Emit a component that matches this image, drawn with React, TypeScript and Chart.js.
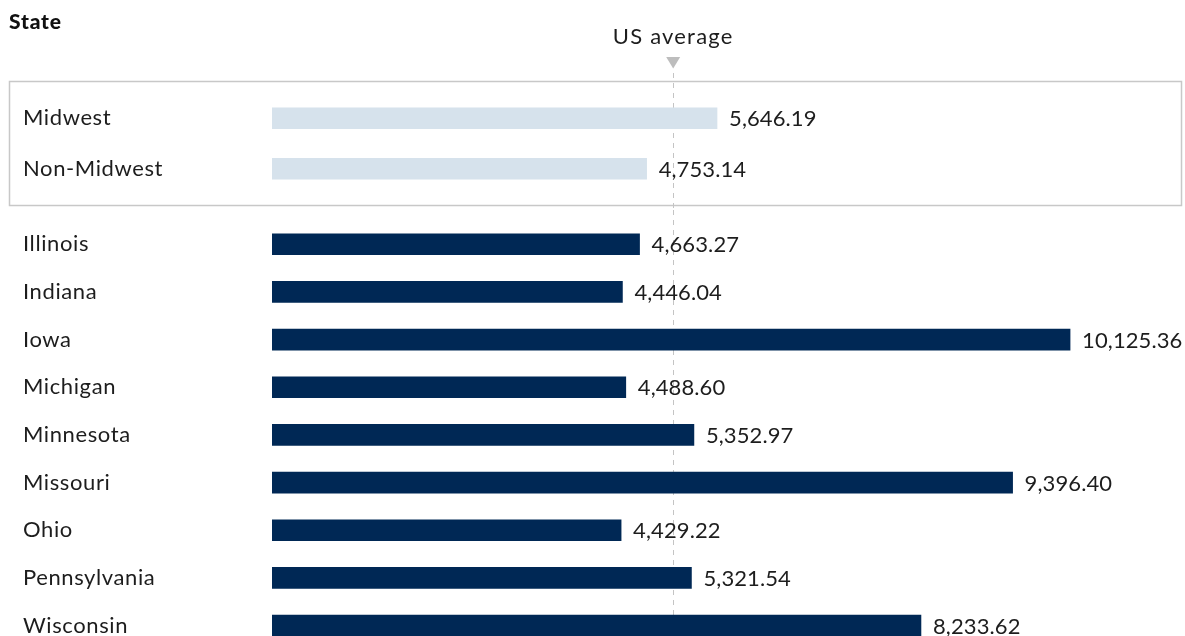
import React, { useEffect, useRef } from "react";
import { Chart, registerables } from "chart.js";

Chart.register(...registerables);

const groupLabels = ["Midwest", "Non-Midwest"];
const groupValues = [5646.19, 4753.14];
const stateLabels = ["Illinois", "Indiana", "Iowa", "Michigan", "Minnesota", "Missouri", "Ohio", "Pennsylvania", "Wisconsin"];
const stateValues = [4663.27, 4446.04, 10125.36, 4488.6, 5352.97, 9396.4, 4429.22, 5321.54, 8233.62];
const usAverage = 5090;
const titleText = "State";
const avgText = "US average";

const FONT = "Lato, 'Open Sans', sans-serif";
const TEXT_COLOR = "#1d1d1d";
const X_MAX = 11000;
const W = 1185;
const SPACING = "0.6px";

const fmt = (v: number) => v.toLocaleString("en-US", { minimumFractionDigits: 2, maximumFractionDigits: 2 });

const spacing = {
  id: "spacing",
  beforeDraw(chart: any) {
    (chart.ctx as any).letterSpacing = SPACING;
  },
};

const valueLabels = {
  id: "valueLabels",
  afterDatasetsDraw(chart: any) {
    const ctx = chart.ctx;
    const meta = chart.getDatasetMeta(0);
    const data = chart.data.datasets[0].data as number[];
    ctx.save();
    (ctx as any).letterSpacing = "0.1px";
    ctx.font = `22px ${FONT}`;
    ctx.fillStyle = TEXT_COLOR;
    ctx.textBaseline = "middle";
    ctx.textAlign = "left";
    meta.data.forEach((bar: any, i: number) => {
      ctx.fillText(fmt(data[i]), bar.x + 12, bar.y + 1);
    });
    ctx.restore();
  },
};

const avgLine = {
  id: "avgLine",
  beforeDatasetsDraw(chart: any, _args: any, opts: any) {
    const ctx = chart.ctx;
    const x = Math.round(chart.scales.x.getPixelForValue(usAverage)) + 0.5;
    ctx.save();
    ctx.strokeStyle = "#c4c4c4";
    ctx.lineWidth = 1;
    ctx.setLineDash([5, 5]);
    ctx.beginPath();
    ctx.moveTo(x, opts.top || 0);
    ctx.lineTo(x, chart.height);
    ctx.stroke();
    ctx.restore();
  },
};

const header = {
  id: "header",
  beforeDatasetsDraw(chart: any) {
    const ctx = chart.ctx;
    const x = chart.scales.x.getPixelForValue(usAverage);
    ctx.save();
    ctx.strokeStyle = "#c8c8c8";
    ctx.lineWidth = 1.5;
    ctx.strokeRect(9.5, 81.5, 1172, 124);
    ctx.fillStyle = "#111";
    (ctx as any).letterSpacing = "0.8px";
    ctx.font = `900 21px ${FONT}`;
    ctx.textAlign = "left";
    ctx.textBaseline = "alphabetic";
    ctx.fillText(titleText, 9, 29);
    (ctx as any).letterSpacing = "1.2px";
    ctx.fillStyle = TEXT_COLOR;
    ctx.font = `22px ${FONT}`;
    ctx.textAlign = "center";
    ctx.fillText(avgText, x, 44);
    ctx.fillStyle = "#bdbdbd";
    ctx.beginPath();
    ctx.moveTo(x - 7, 57);
    ctx.lineTo(x + 7, 57);
    ctx.lineTo(x, 68.5);
    ctx.closePath();
    ctx.fill();
    ctx.restore();
  },
};

function makeOptions(padTop: number, padBottom: number, lineTop: number) {
  return {
    indexAxis: "y" as const,
    animation: false as const,
    responsive: false,
    maintainAspectRatio: false,
    events: [],
    layout: { padding: { left: 23, right: W - 272 - 867, top: padTop, bottom: padBottom } },
    plugins: {
      legend: { display: false },
      tooltip: { enabled: false },
      title: { display: false },
      avgLine: { top: lineTop },
    },
    scales: {
      x: { display: false, min: 0, max: X_MAX },
      y: {
        grid: { display: false, drawTicks: false },
        border: { display: false },
        ticks: {
          crossAlign: "far" as const,
          color: TEXT_COLOR,
          font: { family: FONT, size: 22 },
          padding: 0,
        },
        afterFit: (scale: any) => {
          scale.width = 249;
        },
      },
    },
  };
}

const BOT_TOP = 200;
const BOT_H = 470;

export default function App() {
  const topRef = useRef<HTMLCanvasElement>(null);
  const botRef = useRef<HTMLCanvasElement>(null);

  useEffect(() => {
    const top = new Chart(topRef.current!, {
      type: "bar",
      data: {
        labels: groupLabels,
        datasets: [{ data: groupValues, backgroundColor: "#d6e2ec", barThickness: 21 }],
      },
      options: makeOptions(93, 210 - 194, 73) as any,
      plugins: [spacing, header, avgLine, valueLabels],
    });
    const bot = new Chart(botRef.current!, {
      type: "bar",
      data: {
        labels: stateLabels,
        datasets: [{ data: stateValues, backgroundColor: "#002855", barThickness: 21 }],
      },
      options: makeOptions(220.4 - BOT_TOP, BOT_H - (220.4 - BOT_TOP) - 429, 210 - BOT_TOP) as any,
      plugins: [spacing, avgLine, valueLabels],
    });
    return () => {
      top.destroy();
      bot.destroy();
    };
  }, []);

  return (
    <div style={{ position: "absolute", left: 0, top: 0, width: W, height: 636, overflow: "hidden", background: "#fff" }}>
      <canvas ref={topRef} width={W} height={210} style={{ position: "absolute", left: 0, top: 0, width: W, height: 210 }} />
      <canvas ref={botRef} width={W} height={BOT_H} style={{ position: "absolute", left: 0, top: BOT_TOP, width: W, height: BOT_H }} />
    </div>
  );
}
